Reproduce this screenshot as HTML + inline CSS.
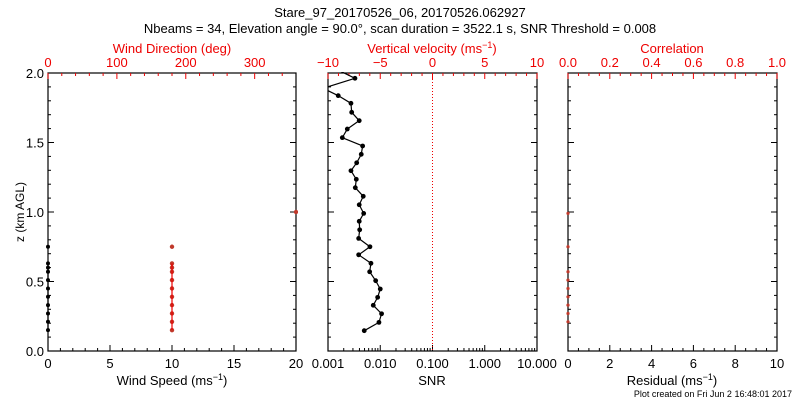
<!DOCTYPE html>
<html><head><meta charset="utf-8"><style>
html,body{margin:0;padding:0;background:#fff;width:800px;height:400px;overflow:hidden}
svg{font-family:"Liberation Sans",sans-serif}
</style></head><body>
<svg id="chart" width="800" height="400" viewBox="0 0 800 400">
<defs>
<clipPath id="cpL"><rect x="46" y="72" width="252" height="279"/></clipPath>
<clipPath id="cpM"><rect x="328" y="72" width="209" height="279"/></clipPath>
<clipPath id="cpR"><rect x="566" y="72" width="211" height="279"/></clipPath>
</defs>
<text x="400" y="17" text-anchor="middle" font-size="13">Stare_97_20170526_06, 20170526.062927</text>
<text x="400" y="33" text-anchor="middle" font-size="13">Nbeams = 34, Elevation angle = 90.0°, scan duration = 3522.1 s, SNR Threshold = 0.008</text>
<g id="g"></g>
<text x="792" y="397" text-anchor="end" font-size="9">Plot created on Fri Jun  2 16:48:01 2017</text>
</svg>
<script>
// Left panel data
const windHeights = [0.75, 0.63, 0.60, 0.57, 0.51, 0.45, 0.39, 0.33, 0.27, 0.21, 0.15];
const windSpeed = [0, 0, 0, 0, 0, 0, 0, 0, 0, 0, 0];
const dirHeights = [1.0, 0.75, 0.63, 0.60, 0.57, 0.51, 0.45, 0.39, 0.33, 0.27, 0.21, 0.15];
const windDir = [360, 180, 180, 180, 180, 180, 180, 180, 180, 180, 180, 180];
// Middle panel data
const snrHeights = [2.03, 1.962, 1.89, 1.837, 1.782, 1.717, 1.657, 1.597, 1.535, 1.475, 1.415, 1.354, 1.297, 1.235, 1.175, 1.113, 1.052, 0.990, 0.933, 0.872, 0.810, 0.750, 0.692, 0.631, 0.570, 0.506, 0.446, 0.386, 0.329, 0.268, 0.206, 0.146];
const snrValues = [0.0014, 0.00328, 0.0008, 0.00157, 0.00275, 0.00284, 0.00396, 0.00234, 0.00188, 0.0046, 0.00433, 0.00354, 0.00275, 0.00348, 0.00333, 0.00473, 0.00396, 0.00482, 0.00396, 0.00404, 0.00386, 0.00635, 0.00386, 0.00664, 0.00627, 0.00817, 0.0100, 0.00892, 0.00735, 0.0106, 0.00944, 0.00494];
// Right panel data
const resHeights = [0.99, 0.75, 0.57, 0.51, 0.45, 0.39, 0.33, 0.27, 0.21];
const residual = [0, 0, 0, 0, 0, 0, 0, 0, 0];
// tick labels
const zTicks = ["0.0", "0.5", "1.0", "1.5", "2.0"];
const wsTicks = ["0", "5", "10", "15", "20"];
const wdTicks = ["0", "100", "200", "300"];
const snrTicks = ["0.001", "0.010", "0.100", "1.000", "10.000"];
const velTicks = ["\u221210", "\u22125", "0", "5", "10"];
const resTicks = ["0", "2", "4", "6", "8", "10"];
const corTicks = ["0.0", "0.2", "0.4", "0.6", "0.8", "1.0"];

const NS = "http://www.w3.org/2000/svg";
const G = document.getElementById("g");
function mk(tag, attrs, parent) {
  const e = document.createElementNS(NS, tag);
  for (const k in attrs) e.setAttribute(k, attrs[k]);
  (parent || G).appendChild(e);
  return e;
}
const Y0 = 351, Y1 = 73;
const yz = z => Y0 - (z / 2) * (Y0 - Y1);
const P = { L: [48, 296], M: [328, 537], R: [568, 777] };
const xLin = (p, a, b) => v => P[p][0] + (v - a) / (b - a) * (P[p][1] - P[p][0]);
const xWS = xLin("L", 0, 20), xWD = xLin("L", 0, 360);
const xSNR = v => P.M[0] + (Math.log10(v) + 3) / 4 * (P.M[1] - P.M[0]);
const xVel = xLin("M", -10, 10);
const xRes = xLin("R", 0, 10), xCor = xLin("R", 0, 1);

function line(x1, y1, x2, y2, c, extra) {
  return mk("line", Object.assign({ x1, y1, x2, y2, stroke: c, "stroke-width": 1 }, extra || {}));
}
function txt(x, y, s, c, anchor, size) {
  const t = mk("text", { x, y, fill: c, "text-anchor": anchor || "middle", "font-size": size || 13 });
  t.textContent = s;
  return t;
}
for (const p of ["L", "M", "R"]) {
  const r = mk("rect", { x: P[p][0], y: Y1, width: P[p][1] - P[p][0], height: Y0 - Y1, fill: "none", stroke: "#000", "stroke-width": 1.2 });
  
  
}
for (const p of ["L", "M", "R"]) {
  for (let i = 0; i <= 20; i++) {
    const y = yz(i / 10), len = i % 5 === 0 ? 6 : 3;
    line(P[p][0], y, P[p][0] + len, y, "#000");
    line(P[p][1], y, P[p][1] - len, y, "#000");
  }
}
zTicks.forEach((s, i) => {
  const t = txt(44, yz(i * 0.5) + 5, s, "#000", "end");
  
  
});
const yt = txt(0, 0, "z (km AGL)", "#000", "middle", 12);
yt.setAttribute("transform", "translate(24,212) rotate(-90)");



function linTicks(fx, a, b, minor, major, labels, yb, dir, col, name) {
  for (let v = a; v <= b + 1e-9; v += minor) {
    const isMaj = Math.abs(v / major - Math.round(v / major)) < 1e-6;
    line(fx(v), yb, fx(v), yb + dir * (isMaj ? 6 : 3), col);
  }
  labels.forEach((s, i) => {
    const t = txt(fx(a + i * major), dir < 0 ? 368 : 67, s, col);
    
    
  });
}
linTicks(xWS, 0, 20, 1, 5, wsTicks, Y0, -1, "#000", "ws-tick-label");
linTicks(xWD, 0, 340, 20, 100, wdTicks, Y1, 1, "#e00", "wd-tick-label");
linTicks(xVel, -10, 10, 1, 5, velTicks, Y1, 1, "#e00", "vel-tick-label");
linTicks(xRes, 0, 10, 0.5, 2, resTicks, Y0, -1, "#000", "res-tick-label");
linTicks(xCor, 0, 1, 0.05, 0.2, corTicks, Y1, 1, "#e00", "cor-tick-label");
for (let d = -3; d <= 0; d++) for (let k = 1; k <= 9; k++) {
  const v = k * Math.pow(10, d);
  line(xSNR(v), Y0, xSNR(v), Y0 - (k === 1 ? 6 : 3), "#000");
}
snrTicks.forEach((s, i) => {
  const t = txt(xSNR(Math.pow(10, i - 3)), 368, s, "#000");
  
  
});
function title(x, y, s, c, name) {
  const t = mk("text", { x, y, fill: c, "text-anchor": "middle", "font-size": 13 });
  t.innerHTML = s;
  
  
}
title(172, 385, 'Wind Speed (ms<tspan dy="-5" font-size="9">−1</tspan><tspan dy="5">)</tspan>', "#000", "x-axis-title-wind-speed");
title(172, 53, 'Wind Direction (deg)', "#e00", "x-axis-title-wind-direction");
title(432, 385, 'SNR', "#000", "x-axis-title-snr");
title(432, 53, 'Vertical velocity (ms<tspan dy="-5" font-size="9">−1</tspan><tspan dy="5">)</tspan>', "#e00", "x-axis-title-vertical-velocity");
title(672, 385, 'Residual (ms<tspan dy="-5" font-size="9">−1</tspan><tspan dy="5">)</tspan>', "#000", "x-axis-title-residual");
title(672, 53, 'Correlation', "#e00", "x-axis-title-correlation");
const zl = line(xVel(0), Y1, xVel(0), Y0, "#e00", { "stroke-dasharray": "1,2" });



function series(hs, vs, fx, col, lineCol, clip, name, connect, r) {
  const grp = mk("g", { "clip-path": "url(#" + clip + ")" });
  
  
  for (let i = 0; i < hs.length; i++) {
    const c = mk("circle", { cx: fx(vs[i]), cy: yz(hs[i]), r: r, fill: col }, grp);
    
    
  }
  if (connect) {
    for (let i = 1; i < hs.length; i++) {
      if (Math.abs(hs[i] - hs[i - 1]) < connect) {
        mk("line", { x1: fx(vs[i - 1]), y1: yz(hs[i - 1]), x2: fx(vs[i]), y2: yz(hs[i]), stroke: lineCol, "stroke-width": 1.2 }, grp);
      }
    }
  }
}
series(windHeights, windSpeed, xWS, "#000", "#000", "cpL", "wind-speed-series", 0.08, 2);
series(dirHeights, windDir, xWD, "#c0392b", "#e00", "cpL", "wind-direction-series", 0.08, 2.2);
series(snrHeights, snrValues, xSNR, "#000", "#000", "cpM", "snr-series", 0.2, 2.4);
series(resHeights, residual, xRes, "#c0392b", "#c0392b", "cpR", "residual-series", 0, 1.6);
</script>
</body></html>
